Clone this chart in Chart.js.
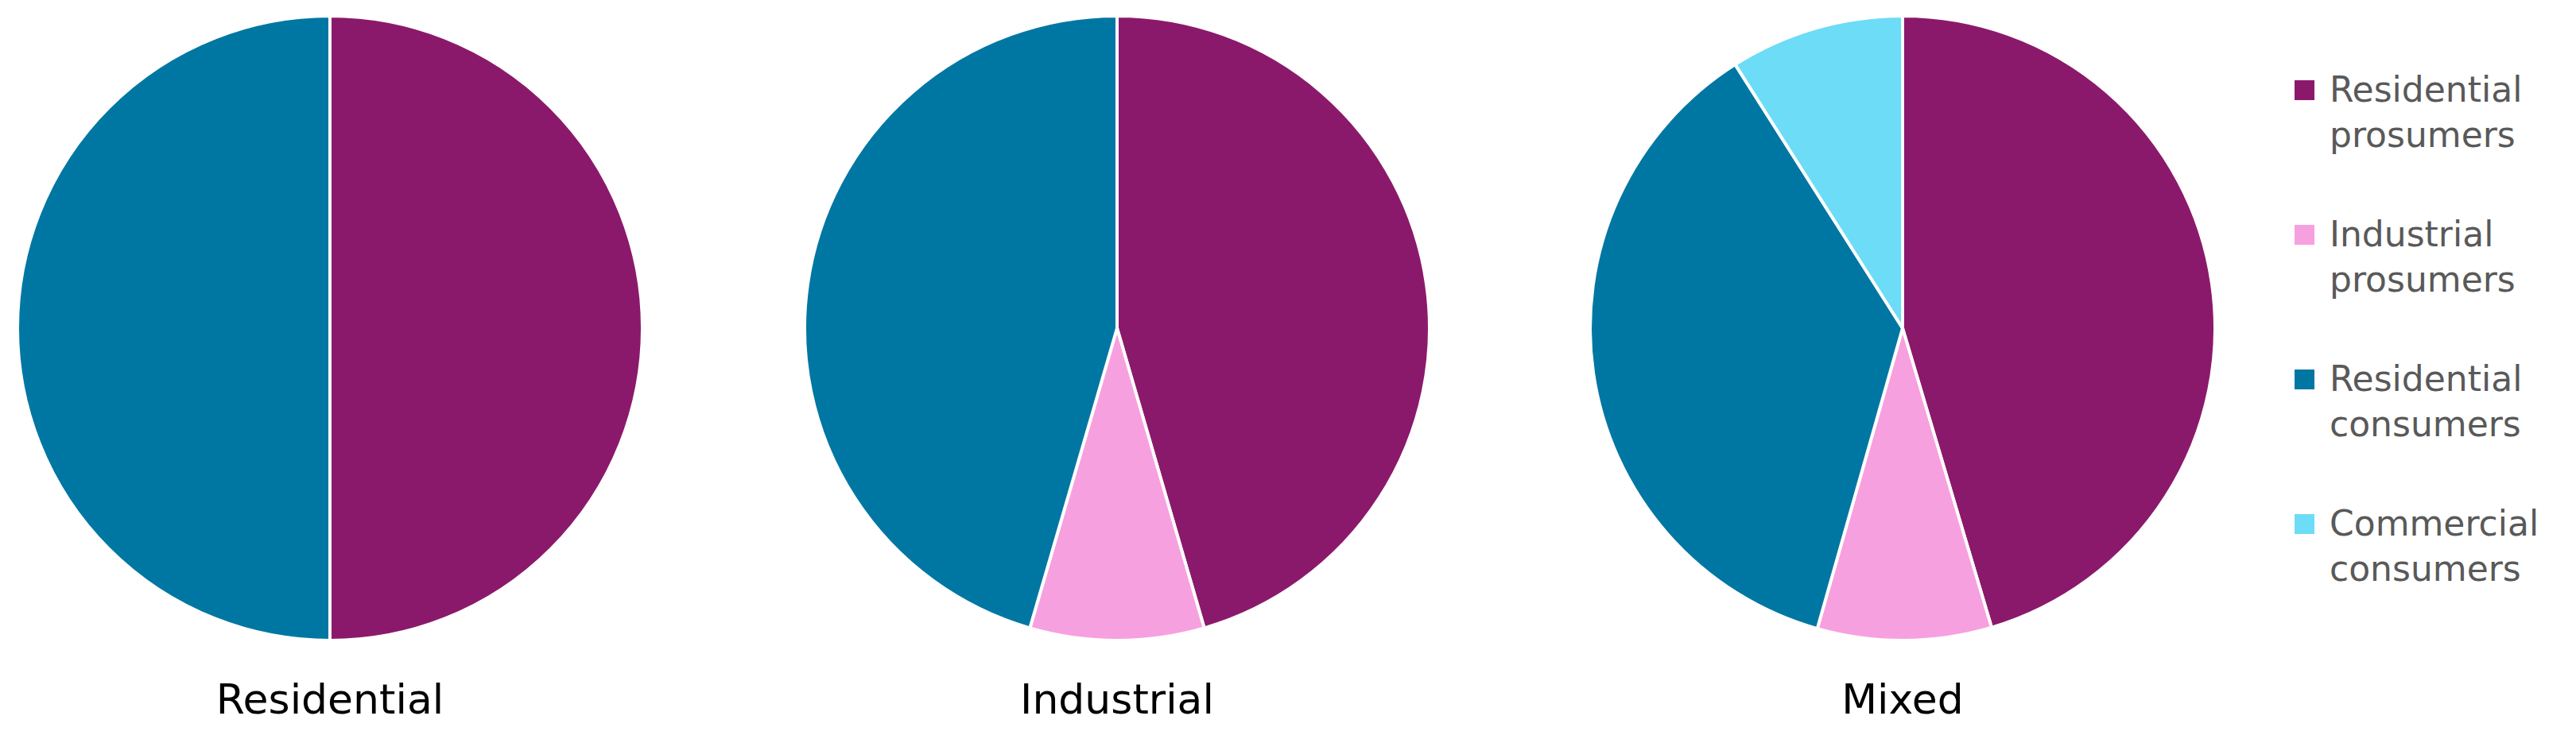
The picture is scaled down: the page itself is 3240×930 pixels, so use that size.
<!DOCTYPE html>
<html>
<head>
<meta charset="utf-8">
<script src="https://cdn.jsdelivr.net/npm/chart.js@4/dist/chart.umd.min.js"></script>
<style>
  body { margin: 0; width: 3240px; height: 930px; background: #fff; position: relative; overflow: hidden; font-family: "DejaVu Sans", sans-serif; }
  .pie { position: absolute; top: 13px; width: 800px; height: 800px; }
  .title { position: absolute; top: 850px; width: 800px; text-align: center; font-size: 52px; color: #000; }
  #legend { position: absolute; left: 2886px; top: 84px; }
  .item { position: relative; padding-left: 44px; font-size: 44px; line-height: 57px; color: #595959; margin-bottom: 68px; }
  .sw { position: absolute; left: 0; top: 17px; width: 25px; height: 25px; }
</style>
</head>
<body>
<div class="pie" style="left:15px"><canvas id="c0" width="800" height="800"></canvas></div>
<div class="pie" style="left:1005px"><canvas id="c1" width="800" height="800"></canvas></div>
<div class="pie" style="left:1993px"><canvas id="c2" width="800" height="800"></canvas></div>
<div class="title" style="left:15px">Residential</div>
<div class="title" style="left:1005px">Industrial</div>
<div class="title" style="left:1993px">Mixed</div>
<div id="legend"></div>
<script>
const categories = ['Residential prosumers', 'Industrial prosumers', 'Residential consumers', 'Commercial consumers'];
const legendLines = [['Residential', 'prosumers'], ['Industrial', 'prosumers'], ['Residential', 'consumers'], ['Commercial', 'consumers']];
const colors = ['#8B196B', '#F7A0E0', '#0077A2', '#6DDCF7'];
const residentialValues = [50, 0, 50, 0];
const industrialValues = [45.5, 9, 45.5, 0];
const mixedValues = [45.4, 9, 36.6, 9];
const allValues = [residentialValues, industrialValues, mixedValues];

allValues.forEach((vals, i) => {
    new Chart(document.getElementById('c' + i), {
        type: 'pie',
        data: {
            labels: categories,
            datasets: [{
                data: vals,
                backgroundColor: colors,
                borderColor: '#fff',
                borderWidth: 4
            }]
        },
        options: {
            responsive: false,
            animation: false,
            layout: { padding: 5 },
            plugins: { legend: { display: false }, tooltip: { enabled: false } }
        }
    });
});

const legend = document.getElementById('legend');
legendLines.forEach((lines, i) => {
    const item = document.createElement('div');
    item.className = 'item';
    item.innerHTML = `<span class="sw" style="background:${colors[i]}"></span>${lines.join('<br>')}`;
    legend.appendChild(item);
});
</script>
</body>
</html>
